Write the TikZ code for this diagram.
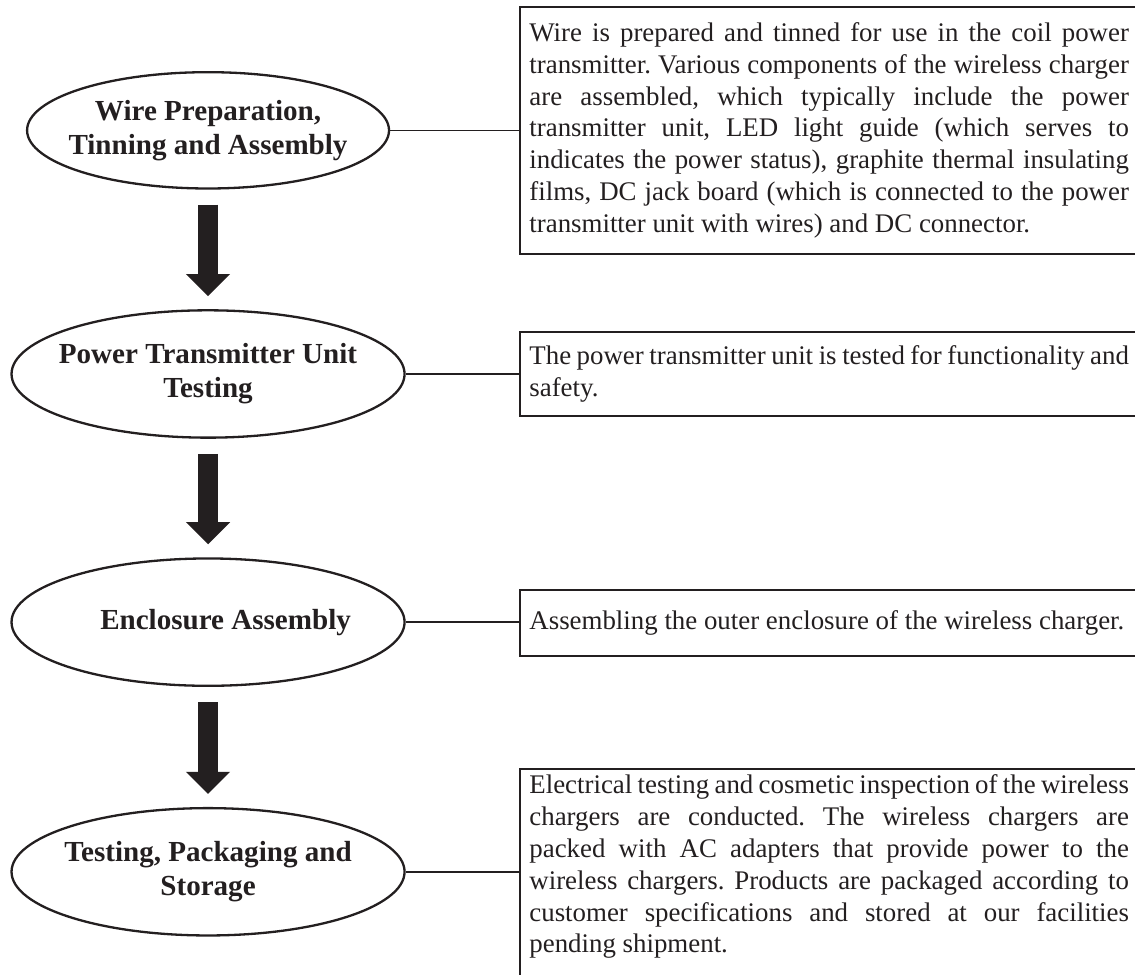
\documentclass[tikz,border=0pt]{standalone}
\usepackage{fontspec}
\setmainfont{Liberation Serif}
\usetikzlibrary{shapes.geometric,arrows.meta}
\definecolor{ink}{RGB}{35,31,32}
\tolerance=9999
\hyphenpenalty=10000
\frenchspacing
\begin{document}
\begin{tikzpicture}[x=0.5pt,y=-0.5pt,stage/.style={ellipse,draw=ink,line width=1.15pt,inner xsep=-15pt,inner ysep=0pt,minimum width=196pt,minimum height=63.5pt,align=center,text=ink,font=\fontsize{14.5}{17}\selectfont\bfseries},note/.style={rectangle,draw=ink,line width=1pt,inner xsep=4.5pt,inner ysep=3pt,text width=299pt,align=justify,text=ink,font=\fontsize{13.4}{15.85}\selectfont},link/.style={draw=ink,line width=0.8pt},flow/.style={draw=ink,line width=10pt,-{Triangle[width=22pt,length=11pt,line width=0pt]},shorten <=7.5pt,shorten >=6.5pt}]
    \useasboundingbox (0,0) rectangle (1132,972);
    \node[stage,minimum width=180.5pt,minimum height=58pt] (wire) at (207.5,130) {Wire Preparation,\\Tinning and Assembly};
    \node[stage] (ptu) at (207.5,373) {Power Transmitter Unit\\Testing};
    \node[stage] (encl) at (207.5,620.5) {\hspace*{17.5pt}Enclosure Assembly};
    \node[stage] (pack) at (207.5,869.5) {Testing, Packaging and\\Storage};

    \node[note,anchor=west,minimum height=123pt] (wirenote) at (518,130) {Wire is prepared and tinned for use in the coil power\linebreak transmitter. Various components of the wireless charger\linebreak are assembled, which typically include the power\linebreak transmitter unit, LED light guide (which serves to\linebreak indicates the power status), graphite thermal insulating\linebreak films, DC jack board (which is connected to the power\linebreak transmitter unit with wires) and DC connector.};
    \node[note,anchor=west,minimum height=42pt] (ptunote) at (518,373) {The power transmitter unit is tested for functionality and\linebreak safety.};
    \node[note,anchor=west,minimum height=33pt] (enclnote) at (518,621) {Assembling the outer enclosure of the wireless charger.};
    \node[note,anchor=north west,text depth=100pt] (packnote) at (518,766) {Electrical testing and cosmetic inspection of the wireless\linebreak chargers are conducted. The wireless chargers are\linebreak packed with AC adapters that provide power to the\linebreak wireless chargers. Products are packaged according to\linebreak customer specifications and stored at our facilities\linebreak pending shipment.};

    \draw[link] (wire.east) -- (wire.east -| wirenote.west);
    \draw[link] (ptu.east) -- (ptu.east -| ptunote.west);
    \draw[link] (encl.east) -- (encl.east -| enclnote.west);
    \draw[link] (pack.east) -- (pack.east -| packnote.west);

    \draw[flow] (wire) -- (ptu);
    \draw[flow] (ptu) -- (encl);
    \draw[flow] (encl) -- (pack);
\end{tikzpicture}
\end{document}
